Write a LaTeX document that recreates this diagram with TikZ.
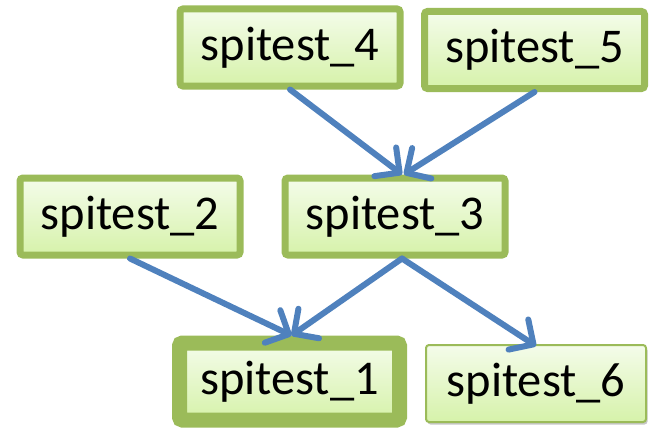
\documentclass[tikz,border=0pt]{standalone}
\usepackage{fontspec}
\setmainfont{Carlito}
\usetikzlibrary{arrows.meta,shadows}
\definecolor{boxline}{HTML}{9BBB59}
\definecolor{boxtop}{HTML}{F4FCEA}
\definecolor{boxbot}{HTML}{D6F2AA}
\definecolor{link}{HTML}{4F81BD}
\begin{document}
\begin{tikzpicture}[x=1pt,y=-1pt,
  box/.style={rectangle, rounded corners=3pt, draw=boxline,
    top color=boxtop, bottom color=boxbot,
    minimum width=220pt, minimum height=77pt, inner sep=0pt,
    font=\fontsize{48.5}{56}\selectfont,
    drop shadow={shadow xshift=1.5pt, shadow yshift=-2.5pt, opacity=0.22, fill=black}},
  mid/.style={box, line width=7pt},
  heavy/.style={box, line width=15pt},
  light/.style={box, line width=2pt},
  link/.style={draw=link, line width=6pt, line cap=round,
    -{Straight Barb[length=18pt, width=36pt, round]}}]
\useasboundingbox (0,0) rectangle (652,428);
\node[mid]   (n4) at (290,47.5)  {spitest\_4};
\node[mid]   (n5) at (534.5,50)  {spitest\_5};
\node[mid]   (n2) at (130,216.5) {spitest\_2};
\node[mid]   (n3) at (395,216.5) {spitest\_3};
\node[heavy] (n1) at (289.5,381.5) {spitest\_1};
\node[light] (n6) at (536,383.5) {spitest\_6};
\draw[link] (n4.south) -- ([xshift=7pt]n3.north);
\draw[link] (n5.south) -- ([xshift=9pt]n3.north);
\draw[link] (n2.south) -- ([xshift=2pt]n1.north);
\draw[link] ([xshift=7pt]n3.south) -- ([xshift=2pt]n1.north);
\draw[link] ([xshift=7pt]n3.south) -- ([yshift=-2pt]n6.north);
\end{tikzpicture}
\end{document}
